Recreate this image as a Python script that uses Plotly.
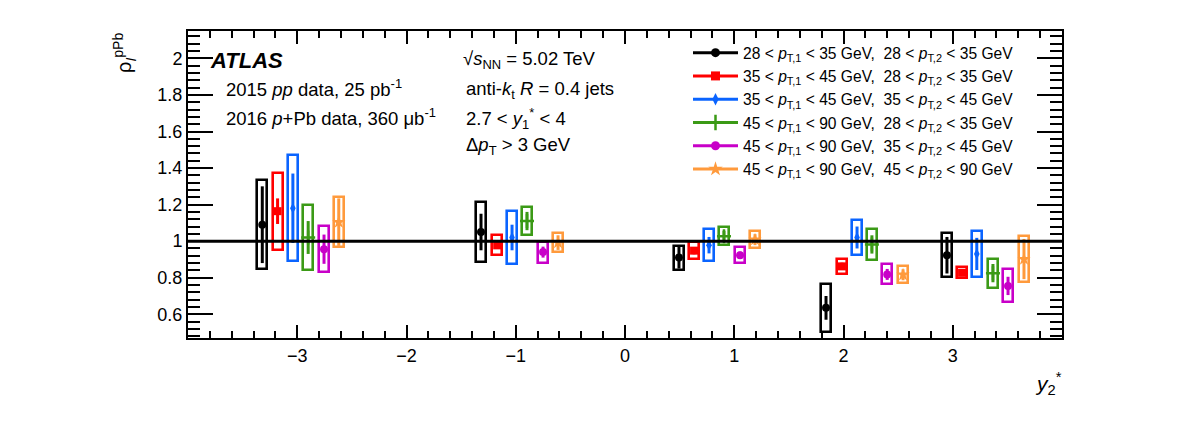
import plotly.graph_objects as go

# ---------------- data ----------------
series_names = [
    "28 < <i>p</i><sub>T,1</sub> < 35 GeV,  28 < <i>p</i><sub>T,2</sub> < 35 GeV",
    "35 < <i>p</i><sub>T,1</sub> < 45 GeV,  28 < <i>p</i><sub>T,2</sub> < 35 GeV",
    "35 < <i>p</i><sub>T,1</sub> < 45 GeV,  35 < <i>p</i><sub>T,2</sub> < 45 GeV",
    "45 < <i>p</i><sub>T,1</sub> < 90 GeV,  28 < <i>p</i><sub>T,2</sub> < 35 GeV",
    "45 < <i>p</i><sub>T,1</sub> < 90 GeV,  35 < <i>p</i><sub>T,2</sub> < 45 GeV",
    "45 < <i>p</i><sub>T,1</sub> < 90 GeV,  45 < <i>p</i><sub>T,2</sub> < 90 GeV",
]
colors = ["#000000", "#ff0000", "#0a64ff", "#3b9a16", "#c800c8", "#ff9a3c"]
symbols = ["circle", "square", "diamond-tall", "cross-thin", "circle", "star"]

# x positions (y2*) of each series
x_s1 = [-3.32, -1.318, 0.494, 1.840, 2.947]
x_s2 = [-3.18, -1.170, 0.632, 1.986, 3.085]
x_s3 = [-3.04, -1.034, 0.769, 2.124, 3.220]
x_s4 = [-2.90, -0.897, 0.906, 2.260, 3.368]
x_s5 = [-2.755, -0.750, 1.053, 2.400, 3.506]
x_s6 = [-2.62, -0.613, 1.190, 2.545, 3.652]

# rho values
v_s1 = [1.09, 1.05, 0.91, 0.635, 0.923]
v_s2 = [1.164, 0.977, 0.948, 0.862, 0.827]
v_s3 = [1.18, 1.02, 0.978, 1.02, 0.93]
v_s4 = [1.02, 1.11, 1.027, 0.982, 0.825]
v_s5 = [0.956, 0.94, 0.923, 0.818, 0.755]
v_s6 = [1.104, 0.992, 1.008, 0.816, 0.902]

# statistical uncertainties
st_s1 = [0.21, 0.10, 0.06, 0.065, 0.10]
st_s2 = [0.07, 0.02, 0.02, 0.02, 0.015]
st_s3 = [0.19, 0.07, 0.045, 0.06, 0.088]
st_s4 = [0.09, 0.05, 0.03, 0.05, 0.05]
st_s5 = [0.08, 0.03, 0.02, 0.03, 0.05]
st_s6 = [0.13, 0.04, 0.03, 0.03, 0.11]

# systematic uncertainties
sy_s1 = [0.245, 0.165, 0.066, 0.13, 0.12]
sy_s2 = [0.21, 0.055, 0.047, 0.04, 0.03]
sy_s3 = [0.29, 0.145, 0.088, 0.096, 0.125]
sy_s4 = [0.18, 0.075, 0.05, 0.085, 0.08]
sy_s5 = [0.125, 0.058, 0.045, 0.055, 0.09]
sy_s6 = [0.135, 0.052, 0.045, 0.047, 0.126]

xs = [x_s1, x_s2, x_s3, x_s4, x_s5, x_s6]
vs = [v_s1, v_s2, v_s3, v_s4, v_s5, v_s6]
sts = [st_s1, st_s2, st_s3, st_s4, st_s5, st_s6]
sys_ = [sy_s1, sy_s2, sy_s3, sy_s4, sy_s5, sy_s6]

x_ticks = [-3, -2, -1, 0, 1, 2, 3]
y_ticks = [0.6, 0.8, 1.0, 1.2, 1.4, 1.6, 1.8, 2.0]
y_ticktext = ["0.6", "0.8", "1", "1.2", "1.4", "1.6", "1.8", "2"]
REF = 1.0

FONT = "Liberation Sans, Arial, Helvetica, sans-serif"

fig = go.Figure()

# systematic boxes
for i in range(6):
    fig.add_trace(go.Bar(
        x=xs[i], y=[2 * s for s in sys_[i]],
        base=[v - s for v, s in zip(vs[i], sys_[i])],
        width=0.09,
        marker=dict(color="rgba(0,0,0,0)", line=dict(color=colors[i], width=2.6)),
        showlegend=False, hoverinfo="skip",
    ))

def msize_of(sym, base):
    if sym in ("star", "cross-thin"):
        return base + 2
    return base

# points with stat errors
for i in range(6):
    fig.add_trace(go.Scatter(
        x=xs[i], y=vs[i], mode="markers",
        marker=dict(symbol=symbols[i], size=msize_of(symbols[i], 8), color=colors[i],
                    line=dict(color=colors[i], width=2.5 if symbols[i] == "cross-thin" else 0)),
        error_y=dict(type="data", array=sts[i], color=colors[i], thickness=3, width=0),
        showlegend=False, hoverinfo="skip",
    ))

# legend entries
for i in range(6):
    fig.add_trace(go.Scatter(
        x=[None], y=[None], mode="lines+markers", name=series_names[i],
        line=dict(color=colors[i], width=3),
        marker=dict(symbol=symbols[i], size=msize_of(symbols[i], 9), color=colors[i],
                    line=dict(color=colors[i], width=2.5 if symbols[i] == "cross-thin" else 0)),
    ))

fig.add_shape(type="line", xref="paper", x0=0, x1=1, yref="y", y0=REF, y1=REF,
              line=dict(color="black", width=3))

ann = []
def A(text, x, y, size=18, xanchor="left", yanchor="middle", **kw):
    ann.append(dict(text=text, x=x, y=y, xref="paper", yref="paper", showarrow=False,
                    xanchor=xanchor, yanchor=yanchor, font=dict(family=FONT, size=size, color="black"), **kw))

W, H = 874.0, 307.0
def px(x):
    return (x - 188) / W
def py(y):
    return (338 - y) / H

A("<b><i>ATLAS</i></b>", px(208), py(60), size=22)
A("2015 <i>pp</i> data, 25 pb<sup>-1</sup>", px(224), py(88), size=18.5)
A("2016 <i>p</i>+Pb data, 360 μb<sup>-1</sup>", px(224), py(117), size=18.5)
A("√<i>s</i><sub>NN</sub> = 5.02 TeV", px(461), py(60), size=18.5)
A("anti-<i>k</i><sub>t</sub> <i>R</i> = 0.4 jets", px(464), py(90), size=18.5)
A("2.7 < <i>y</i><sub>1</sub><sup>*</sup> < 4", px(464), py(118), size=18.5)
A("Δ<i>p</i><sub>T</sub> > 3 GeV", px(464), py(146), size=18.5)
A("<i>y</i><sub>2</sub><sup>*</sup>", px(1033), py(383), size=21)
A("ρ<sub><i>I</i></sub><sup>pPb</sup>", px(124), 1.0, size=20, xanchor="center", yanchor="top", textangle=-90)

fig.update_layout(
    width=1182, height=423,
    margin=dict(l=188, r=120, t=31, b=85),
    paper_bgcolor="white", plot_bgcolor="white",
    barmode="overlay", bargap=0,
    font=dict(family=FONT, size=18, color="black"),
    annotations=ann,
    hovermode=False,
    legend=dict(x=px(688), y=py(36), xanchor="left", yanchor="top",
                bgcolor="rgba(0,0,0,0)", font=dict(family=FONT, size=15.6),
                itemwidth=45, tracegroupgap=0),
)

fig.update_xaxes(range=[-4, 4], tickvals=x_ticks, ticks="inside", ticklen=13, tickwidth=1.5,
                 tickcolor="black", showline=True, linecolor="black", linewidth=2, mirror="ticks",
                 showgrid=False, zeroline=False, tickfont=dict(size=18),
                 minor=dict(dtick=0.2, ticks="inside", ticklen=7, tickwidth=1.5, tickcolor="black", showgrid=False))
fig.update_yaxes(range=[0.47, 2.15], tickvals=y_ticks, ticktext=y_ticktext,
                 ticks="inside", ticklen=25, tickwidth=1.5,
                 tickcolor="black", showline=True, linecolor="black", linewidth=2, mirror="ticks",
                 showgrid=False, zeroline=False, tickfont=dict(size=18),
                 minor=dict(dtick=0.04, ticks="inside", ticklen=12, tickwidth=1.5, tickcolor="black", showgrid=False))

fig.write_html("out.html")
